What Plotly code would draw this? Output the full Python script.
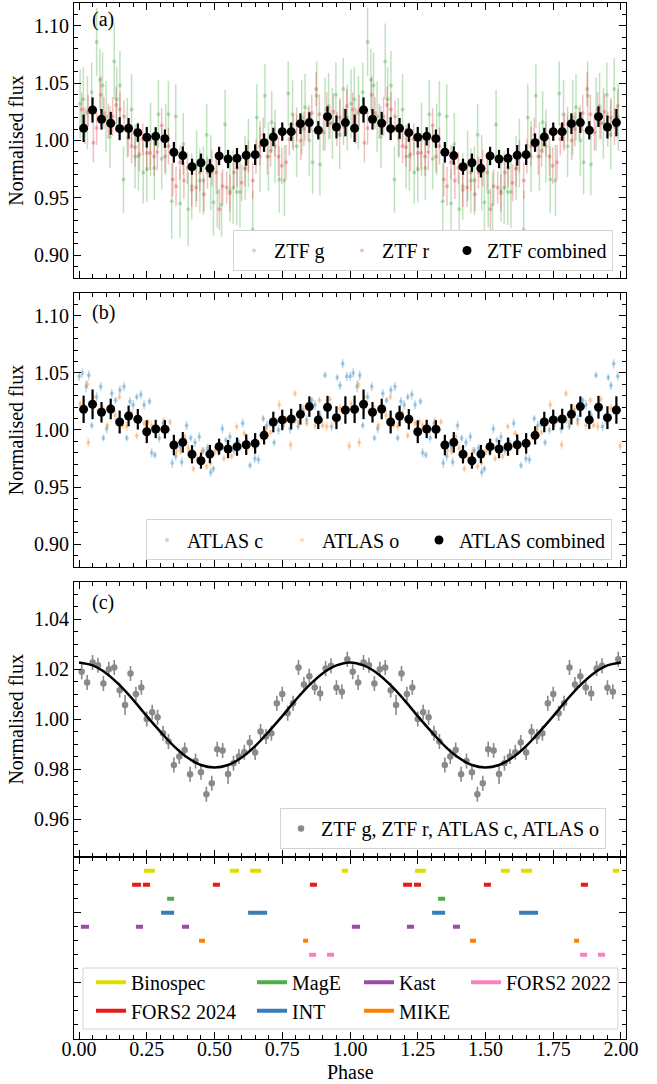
import plotly.graph_objects as go

SERIF = "Liberation Serif, Times New Roman, Times, serif"
FS = 20

# ---------------- Panel (a): ZTF ----------------
ztf_g_phase = [0.004, 0.016, 0.031, 0.047, 0.065, 0.077, 0.087, 0.100, 0.114, 0.130,
               0.139, 0.151, 0.164, 0.178, 0.194, 0.207, 0.219, 0.237, 0.250, 0.264,
               0.278, 0.293, 0.305, 0.320, 0.330, 0.342, 0.357, 0.373, 0.385, 0.403,
               0.416, 0.434, 0.446, 0.459, 0.471, 0.486, 0.496, 0.510, 0.526, 0.539,
               0.557, 0.569, 0.582, 0.594, 0.613, 0.625, 0.641, 0.656, 0.668, 0.686,
               0.699, 0.711, 0.723, 0.739, 0.758, 0.772, 0.788, 0.803, 0.822, 0.834,
               0.850, 0.862, 0.877, 0.889, 0.908, 0.921, 0.935, 0.948, 0.962, 0.975,
               0.990]
ztf_g_flux = [1.032, 1.036, 1.024, 1.042, 1.086, 1.053, 1.048, 1.021, 1.003, 1.069,
              1.036, 1.048, 0.966, 1.011, 1.027, 0.986, 0.986, 0.972, 0.975, 1.001,
              0.976, 1.023, 0.984, 1.001, 1.023, 0.947, 1.021, 0.945, 0.997, 0.940,
              0.960, 0.978, 0.965, 0.965, 1.005, 0.972, 0.946, 0.955, 0.944, 1.014,
              0.956, 0.959, 0.955, 0.955, 0.976, 0.989, 0.922, 1.020, 0.986, 1.039,
              0.986, 1.016, 0.995, 0.966, 0.965, 1.041, 1.023, 0.995, 1.020, 1.029,
              1.000, 0.981, 1.039, 0.979, 1.023, 1.030, 1.015, 1.040, 1.005, 1.045,
              1.020]
ztf_g_err = [0.030, 0.028, 0.032, 0.026, 0.030, 0.027, 0.029, 0.031, 0.027, 0.033,
             0.028, 0.030, 0.029, 0.026, 0.031, 0.028, 0.030, 0.027, 0.029, 0.032,
             0.028, 0.030, 0.027, 0.031, 0.029, 0.033, 0.028, 0.030, 0.027, 0.032,
             0.029, 0.031, 0.028, 0.030, 0.027, 0.033, 0.029, 0.031, 0.028, 0.030,
             0.027, 0.032, 0.029, 0.031, 0.028, 0.030, 0.034, 0.029, 0.031, 0.028,
             0.030, 0.027, 0.032, 0.029, 0.031, 0.028, 0.030, 0.027, 0.033, 0.029,
             0.031, 0.028, 0.030, 0.027, 0.032, 0.029, 0.031, 0.028, 0.030, 0.027,
             0.029]

ztf_r_phase = [0.010, 0.022, 0.034, 0.053, 0.065, 0.080, 0.092, 0.108, 0.124, 0.137,
               0.151, 0.166, 0.182, 0.194, 0.207, 0.223, 0.235, 0.250, 0.262, 0.277,
               0.289, 0.305, 0.317, 0.330, 0.346, 0.358, 0.373, 0.387, 0.400, 0.416,
               0.432, 0.446, 0.461, 0.474, 0.490, 0.506, 0.518, 0.530, 0.545, 0.557,
               0.572, 0.584, 0.600, 0.613, 0.625, 0.641, 0.653, 0.668, 0.680, 0.695,
               0.707, 0.723, 0.736, 0.748, 0.764, 0.776, 0.791, 0.803, 0.818, 0.830,
               0.846, 0.859, 0.875, 0.887, 0.902, 0.914, 0.926, 0.939, 0.951, 0.963,
               0.976, 0.988]
ztf_r_flux = [1.027, 1.013, 1.026, 0.998, 1.011, 1.040, 1.024, 1.017, 1.021, 1.031,
              1.027, 1.021, 1.002, 0.995, 0.994, 0.988, 1.001, 0.989, 0.989, 0.986,
              0.990, 1.013, 0.986, 0.995, 0.966, 0.960, 0.981, 0.965, 0.976, 0.957,
              0.959, 0.972, 0.953, 0.972, 0.976, 0.972, 0.940, 0.960, 0.959, 0.954,
              0.972, 0.976, 0.963, 0.975, 0.986, 0.965, 0.986, 0.995, 1.005, 0.986,
              0.991, 1.001, 0.986, 0.978, 0.981, 1.001, 1.007, 1.014, 1.000, 1.010,
              1.015, 1.024, 1.045, 1.023, 1.007, 1.027, 1.015, 1.025, 1.010, 1.020,
              1.012, 1.030]
ztf_r_err = [0.015, 0.016, 0.014, 0.017, 0.015, 0.016, 0.014, 0.015, 0.017, 0.016,
             0.015, 0.014, 0.016, 0.015, 0.017, 0.015, 0.014, 0.016, 0.015, 0.017,
             0.016, 0.015, 0.014, 0.016, 0.015, 0.017, 0.015, 0.016, 0.014, 0.015,
             0.017, 0.016, 0.015, 0.014, 0.016, 0.015, 0.018, 0.015, 0.014, 0.016,
             0.015, 0.017, 0.016, 0.015, 0.014, 0.016, 0.015, 0.017, 0.015, 0.016,
             0.014, 0.015, 0.017, 0.016, 0.015, 0.014, 0.016, 0.015, 0.017, 0.015,
             0.014, 0.016, 0.015, 0.017, 0.016, 0.015, 0.014, 0.016, 0.015, 0.017,
             0.016, 0.015]

bin30_phase = [0.017, 0.050, 0.083, 0.117, 0.150, 0.183, 0.217, 0.250, 0.283, 0.317,
               0.350, 0.383, 0.417, 0.450, 0.483, 0.517, 0.550, 0.583, 0.617, 0.650,
               0.683, 0.717, 0.750, 0.783, 0.817, 0.850, 0.883, 0.917, 0.950, 0.983]
ztf_comb_flux = [1.0106, 1.0266, 1.0185, 1.0150, 1.0103, 1.0106, 1.0068, 1.0028, 1.0036, 1.0016,
                 0.9897, 0.9868, 0.9771, 0.9806, 0.9757, 0.9865, 0.9838, 0.9844, 0.9870, 0.9876,
                 0.9981, 1.0031, 1.0077, 1.0077, 1.0147, 1.0156, 1.0089, 1.0208, 1.0118, 1.0156]
ztf_comb_err = [0.012, 0.011, 0.009, 0.010, 0.010, 0.009, 0.008, 0.009, 0.008, 0.008,
                0.009, 0.008, 0.007, 0.008, 0.008, 0.008, 0.008, 0.009, 0.009, 0.009,
                0.008, 0.008, 0.008, 0.008, 0.009, 0.009, 0.008, 0.009, 0.010, 0.012]

# ---------------- Panel (b): ATLAS ----------------
atlas_c_phase = [0.001, 0.012, 0.026, 0.036, 0.047, 0.065, 0.080, 0.090, 0.102, 0.121,
                 0.135, 0.151, 0.166, 0.176, 0.188, 0.200, 0.213, 0.228, 0.240, 0.260,
                 0.268, 0.280, 0.296, 0.311, 0.330, 0.344, 0.357, 0.373, 0.379, 0.397,
                 0.412, 0.428, 0.444, 0.459, 0.474, 0.486, 0.496, 0.514, 0.529, 0.542,
                 0.557, 0.572, 0.588, 0.604, 0.619, 0.631, 0.649, 0.662, 0.680, 0.693,
                 0.705, 0.720, 0.736, 0.752, 0.764, 0.779, 0.797, 0.809, 0.828, 0.840,
                 0.859, 0.871, 0.889, 0.908, 0.920, 0.932, 0.953, 0.963, 0.973, 0.988]
atlas_c_flux = [1.047, 1.050, 1.038, 1.048, 1.004, 1.029, 1.038, 0.993, 1.001, 1.032,
                1.026, 1.035, 1.038, 0.993, 1.025, 1.022, 1.029, 1.031, 1.022, 1.025,
                0.980, 0.978, 0.993, 1.006, 1.000, 0.971, 0.977, 0.985, 0.972, 1.004,
                0.993, 0.989, 0.994, 0.982, 0.984, 0.963, 0.966, 0.981, 1.001, 0.991,
                0.994, 0.982, 0.990, 1.006, 0.990, 0.969, 0.975, 0.974, 1.010, 1.004,
                1.006, 0.989, 1.000, 1.004, 1.009, 1.001, 1.009, 1.003, 1.015, 1.009,
                1.026, 1.022, 1.013, 1.048, 1.020, 1.003, 1.046, 1.039, 1.058, 1.047]
atlas_c_err = [0.004, 0.004, 0.005, 0.004, 0.003, 0.004, 0.004, 0.003, 0.004, 0.004,
               0.003, 0.004, 0.004, 0.003, 0.004, 0.004, 0.003, 0.004, 0.004, 0.003,
               0.004, 0.003, 0.004, 0.004, 0.003, 0.004, 0.004, 0.003, 0.004, 0.004,
               0.003, 0.004, 0.004, 0.003, 0.004, 0.004, 0.003, 0.004, 0.004, 0.003,
               0.004, 0.004, 0.003, 0.004, 0.004, 0.003, 0.004, 0.004, 0.003, 0.004,
               0.004, 0.003, 0.004, 0.004, 0.003, 0.004, 0.004, 0.003, 0.004, 0.004,
               0.003, 0.004, 0.004, 0.003, 0.004, 0.004, 0.003, 0.004, 0.004, 0.004]

atlas_o_phase = [0.004, 0.031, 0.034, 0.053, 0.071, 0.090, 0.105, 0.118, 0.133, 0.149,
                 0.161, 0.176, 0.194, 0.213, 0.225, 0.240, 0.256, 0.268, 0.280, 0.296,
                 0.314, 0.336, 0.344, 0.360, 0.375, 0.391, 0.403, 0.422, 0.437, 0.453,
                 0.471, 0.486, 0.502, 0.518, 0.535, 0.551, 0.563, 0.582, 0.594, 0.610,
                 0.625, 0.643, 0.658, 0.674, 0.690, 0.707, 0.723, 0.739, 0.752, 0.766,
                 0.781, 0.797, 0.809, 0.828, 0.840, 0.855, 0.871, 0.887, 0.899, 0.914,
                 0.926, 0.945, 0.963, 0.997]
atlas_o_flux = [1.023, 1.040, 0.989, 1.029, 1.017, 1.018, 1.004, 1.015, 1.013, 1.029,
                1.004, 1.003, 1.015, 0.995, 1.009, 1.006, 1.007, 1.004, 1.000, 1.000,
                1.007, 1.007, 0.987, 0.982, 0.981, 0.994, 0.984, 0.966, 0.975, 0.981,
                0.968, 0.971, 0.982, 0.988, 0.975, 0.984, 0.977, 1.003, 0.985, 0.997,
                0.985, 0.987, 0.988, 0.993, 1.000, 0.998, 1.006, 1.022, 1.004, 1.009,
                0.987, 1.032, 1.007, 1.018, 1.006, 1.020, 1.004, 1.026, 1.004, 1.003,
                1.027, 1.007, 1.019, 0.986]
atlas_o_err = [0.003, 0.004, 0.004, 0.003, 0.003, 0.004, 0.003, 0.003, 0.004, 0.003,
               0.003, 0.004, 0.003, 0.003, 0.004, 0.003, 0.003, 0.004, 0.003, 0.003,
               0.004, 0.003, 0.003, 0.004, 0.003, 0.003, 0.004, 0.003, 0.003, 0.004,
               0.003, 0.003, 0.004, 0.003, 0.003, 0.004, 0.003, 0.003, 0.004, 0.003,
               0.003, 0.004, 0.003, 0.003, 0.004, 0.003, 0.003, 0.004, 0.003, 0.003,
               0.004, 0.003, 0.003, 0.004, 0.003, 0.003, 0.004, 0.003, 0.003, 0.004,
               0.003, 0.003, 0.004, 0.004]

atlas_comb_flux = [1.0181, 1.0225, 1.0155, 1.0184, 1.0070, 1.0123, 1.0094, 0.9985, 1.0009, 1.0006,
                   0.9868, 0.9892, 0.9787, 0.9731, 0.9789, 0.9854, 0.9833, 0.9854, 0.9871, 0.9883,
                   0.9953, 1.0070, 1.0088, 1.0096, 1.0137, 1.0205, 1.0088, 1.0199, 1.0108, 1.0175]
atlas_comb_err = [0.012, 0.013, 0.009, 0.009, 0.010, 0.009, 0.009, 0.010, 0.008, 0.008,
                  0.009, 0.009, 0.008, 0.007, 0.008, 0.007, 0.008, 0.008, 0.009, 0.009,
                  0.008, 0.009, 0.009, 0.009, 0.009, 0.009, 0.008, 0.010, 0.010, 0.012]

# ---------------- Panel (c): all surveys combined + model ----------------
bin50_phase = [0.01, 0.03, 0.05, 0.07, 0.09, 0.11, 0.13, 0.15, 0.17, 0.19,
               0.21, 0.23, 0.25, 0.27, 0.29, 0.31, 0.33, 0.35, 0.37, 0.39,
               0.41, 0.43, 0.45, 0.47, 0.49, 0.51, 0.53, 0.55, 0.57, 0.59,
               0.61, 0.63, 0.65, 0.67, 0.69, 0.71, 0.73, 0.75, 0.77, 0.79,
               0.81, 0.83, 0.85, 0.87, 0.89, 0.91, 0.93, 0.95, 0.97, 0.99]
all_flux = [1.0191, 1.0148, 1.0228, 1.0217, 1.0144, 1.0201, 1.0208, 1.0117, 1.0057, 1.0184,
            1.0101, 1.0128, 1.0001, 1.0028, 1.0008, 0.9944, 0.9911, 0.9817, 0.9851, 0.9877,
            0.9780, 0.9833, 0.9788, 0.9700, 0.9744, 0.9880, 0.9875, 0.9781, 0.9824, 0.9851,
            0.9868, 0.9907, 0.9867, 0.9951, 0.9931, 0.9944, 1.0064, 1.0101, 1.0024, 1.0064,
            1.0208, 1.0140, 1.0173, 1.0128, 1.0104, 1.0204, 1.0215, 1.0127, 1.0111, 1.0241]
all_err = [0.003, 0.003, 0.003, 0.003, 0.003, 0.003, 0.003, 0.003, 0.004, 0.003,
           0.003, 0.003, 0.003, 0.003, 0.003, 0.003, 0.003, 0.003, 0.003, 0.003,
           0.003, 0.003, 0.003, 0.003, 0.003, 0.003, 0.003, 0.004, 0.003, 0.003,
           0.003, 0.003, 0.003, 0.003, 0.003, 0.003, 0.003, 0.003, 0.003, 0.003,
           0.003, 0.003, 0.003, 0.003, 0.003, 0.003, 0.003, 0.003, 0.003, 0.003]

model_phase = [0.00, 0.05, 0.10, 0.15, 0.20, 0.25, 0.30, 0.35, 0.40, 0.45, 0.50,
               0.55, 0.60, 0.65, 0.70, 0.75, 0.80, 0.85, 0.90, 0.95, 1.00]
model_flux = [1.0228, 1.0216, 1.0185, 1.0137, 1.0078, 1.0013, 0.9951, 0.9893, 0.9847, 0.9817, 0.9807,
              0.9817, 0.9847, 0.9893, 0.9951, 1.0013, 1.0078, 1.0137, 1.0185, 1.0216, 1.0228]

# ---------------- Panel (d): spectroscopic phase coverage ----------------
instruments = ["Binospec", "FORS2 2024", "MagE", "INT", "Kast", "MIKE", "FORS2 2022"]
inst_row = [3, 2, 1, 0, -1, -2, -3]
inst_color = ["#dede00", "#e41a1c", "#4daf4a", "#377eb8", "#984ea3", "#ff7f00", "#f781bf"]
seg_binospec = [[0.240, 0.280], [0.557, 0.590], [0.631, 0.672], [0.970, 0.993]]
seg_fors2024 = [[0.196, 0.229], [0.236, 0.262], [0.494, 0.520], [0.852, 0.878]]
seg_mage = [[0.325, 0.351]]
seg_int = [[0.303, 0.351], [0.624, 0.694]]
seg_kast = [[0.007, 0.037], [0.210, 0.236], [0.380, 0.406]]
seg_mike = [[0.443, 0.465], [0.827, 0.845]]
seg_fors2022 = [[0.849, 0.875], [0.915, 0.941]]
inst_segments = [seg_binospec, seg_fors2024, seg_mage, seg_int, seg_kast, seg_mike, seg_fors2022]


def two_cycles(ph):
    # phase-folded data are shown over two cycles
    return list(ph) + [p + 1.0 for p in ph]


def twice(v):
    return list(v) + list(v)


fig = go.Figure()


def add_pts(x, y, e, name, color, ecolor, size, thick, xa, ya, legend, lw=None):
    fig.add_trace(go.Scatter(
        x=two_cycles(x), y=twice(y), mode="markers", name=name,
        marker=dict(color=color, size=size, line=dict(width=0)),
        error_y=dict(type="data", array=twice(e), visible=True, thickness=thick,
                     width=0, color=ecolor),
        xaxis=xa, yaxis=ya, legend=legend, legendwidth=lw))


# panel a
add_pts(ztf_g_phase, ztf_g_flux, ztf_g_err, "ZTF g", "rgba(44,160,44,0.3)",
        "rgba(44,160,44,0.3)", 4, 1.5, "x", "y", "legend", 63)
add_pts(ztf_r_phase, ztf_r_flux, ztf_r_err, "ZTF r", "rgba(214,39,40,0.3)",
        "rgba(214,39,40,0.3)", 4, 1.5, "x", "y", "legend", 60)
add_pts(bin30_phase, ztf_comb_flux, ztf_comb_err, "ZTF combined", "black", "black",
        9, 2.2, "x", "y", "legend")

# panel b
add_pts(atlas_c_phase, atlas_c_flux, atlas_c_err, "ATLAS c", "rgba(31,119,180,0.3)",
        "rgba(31,119,180,0.3)", 4, 1.5, "x2", "y2", "legend2", 90)
add_pts(atlas_o_phase, atlas_o_flux, atlas_o_err, "ATLAS o", "rgba(255,127,14,0.3)",
        "rgba(255,127,14,0.3)", 4, 1.5, "x2", "y2", "legend2", 92)
add_pts(bin30_phase, atlas_comb_flux, atlas_comb_err, "ATLAS combined", "black", "black",
        9, 2.2, "x2", "y2", "legend2")

# panel c
add_pts(bin50_phase, all_flux, all_err, "ZTF g, ZTF r, ATLAS c, ATLAS o", "#8a8a8a",
        "#8a8a8a", 6.5, 1.6, "x3", "y3", "legend3")
fig.add_trace(go.Scatter(
    x=list(model_phase) + [p + 1.0 for p in model_phase[1:]],
    y=list(model_flux) + list(model_flux[1:]),
    mode="lines", line=dict(color="black", width=2.5, shape="spline"),
    showlegend=False, xaxis="x3", yaxis="y3"))

# panel d
row1 = ["Binospec", "MagE", "Kast", "FORS2 2022"]
legend_widths = {"Binospec": 116, "FORS2 2024": 116, "MagE": 62, "INT": 62,
                 "Kast": 62, "MIKE": 62, "FORS2 2022": None}
order = ["Binospec", "MagE", "Kast", "FORS2 2022", "FORS2 2024", "INT", "MIKE"]
for name in order:
    i = instruments.index(name)
    xs, ys = [], []
    for cyc in (0.0, 1.0):
        for s, e in inst_segments[i]:
            xs += [s + cyc, e + cyc, None]
            ys += [inst_row[i], inst_row[i], None]
    fig.add_trace(go.Scatter(
        x=xs, y=ys, mode="lines", name=name,
        line=dict(color=inst_color[i], width=4),
        xaxis="x4", yaxis="y4",
        legend="legend4" if name in row1 else "legend5",
        legendwidth=legend_widths[name]))

# ---------------- layout ----------------
XR = [-0.0185, 2.0185]
axfont = dict(family=SERIF, size=FS, color="black")


def xax(show_labels, anchor):
    return dict(range=XR, anchor=anchor, domain=[0, 1], tick0=0, dtick=0.25,
                tickformat=".2f", showticklabels=show_labels, ticks="inside",
                ticklen=7, tickwidth=1, tickcolor="black", showline=True,
                linecolor="black", linewidth=1.2, mirror="allticks", showgrid=False,
                zeroline=False, tickfont=axfont, automargin=False,
                minor=dict(ticks="inside", ticklen=4, tickwidth=1, tickcolor="black",
                           dtick=0.05, tick0=0, showgrid=False))


def yax(rng, dom, dt, t0, mdt, anchor, labels=True, fmt=".2f"):
    return dict(range=rng, domain=dom, anchor=anchor, tick0=t0, dtick=dt,
                tickformat=fmt, showticklabels=labels, ticks="inside", ticklen=7,
                tickwidth=1, tickcolor="black", showline=True, linecolor="black",
                linewidth=1.2, mirror="allticks", showgrid=False, zeroline=False,
                tickfont=axfont, automargin=False,
                title=dict(text="Normalised flux" if labels else "", font=axfont,
                           standoff=4),
                minor=dict(ticks="inside", ticklen=4, tickwidth=1, tickcolor="black",
                           dtick=mdt, tick0=t0, showgrid=False))


xa4 = xax(True, "y4")
xa4["ticklabelstandoff"] = -8

legbase = dict(orientation="h", bgcolor="white", bordercolor="#d3d3d3", borderwidth=1,
               font=dict(family=SERIF, size=FS, color="black"), xanchor="left",
               yanchor="middle")

fig.update_layout(
    width=657, height=1084,
    margin=dict(l=74, r=31, t=3, b=45, autoexpand=False),
    paper_bgcolor="white", plot_bgcolor="white",
    font=dict(family=SERIF, size=FS, color="black"),
    xaxis=xax(False, "y"),
    xaxis2=xax(False, "y2"),
    xaxis3=xax(False, "y3"),
    xaxis4=xa4,
    yaxis=yax([0.88, 1.12], [0.7346, 1.0], 0.05, 0.9, 0.01, "x"),
    yaxis2=yax([0.88, 1.12], [0.4556, 0.7201], 0.05, 0.9, 0.01, "x2"),
    yaxis3=yax([0.945, 1.055], [0.1760, 0.4411], 0.02, 0.96, 0.005, "x3"),
    yaxis4=yax([-9, 4], [0.0, 0.1760], 5, 0, 1, "x4", labels=False),
    legend=dict(legbase, x=(233 - 74) / 552, y=0.7611),
    legend2=dict(legbase, x=(146 - 74) / 552, y=0.4817),
    legend3=dict(legbase, x=(280 - 74) / 552, y=0.2032),
    legend4=dict(legbase, x=(91 - 74) / 552, y=0.0547, bgcolor="rgba(0,0,0,0)",
                 borderwidth=0),
    legend5=dict(legbase, x=(91 - 74) / 552, y=0.0273, bgcolor="rgba(0,0,0,0)",
                 borderwidth=0),
    shapes=[dict(type="rect", xref="paper", yref="paper", x0=0.0163, x1=0.9855,
                 y0=0.00965, y1=0.0685, fillcolor="white",
                 line=dict(color="#d3d3d3", width=1), layer="below")],
    annotations=[
        dict(text="(a)", x=(90 - 74) / 552, y=0.9836, xref="paper", yref="paper",
             xanchor="left", yanchor="middle", showarrow=False, font=axfont),
        dict(text="(b)", x=(90 - 74) / 552, y=0.7008, xref="paper", yref="paper",
             xanchor="left", yanchor="middle", showarrow=False, font=axfont),
        dict(text="(c)", x=(90 - 74) / 552, y=0.4218, xref="paper", yref="paper",
             xanchor="left", yanchor="middle", showarrow=False, font=axfont),
        dict(text="Phase", x=0.5, y=(1039 - 1084) / 1036, xref="paper", yref="paper",
             xanchor="center", yanchor="bottom", showarrow=False, font=axfont,
             borderpad=0),
    ],
)

fig.write_html("out.html")
